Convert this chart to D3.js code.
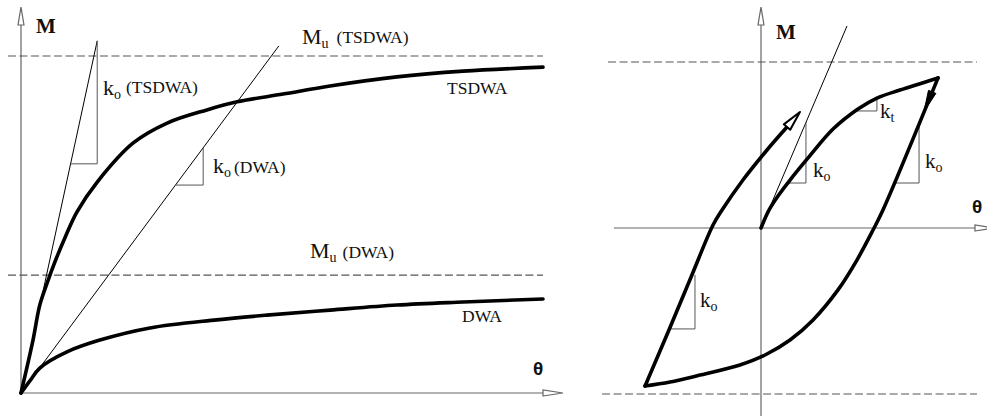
<!DOCTYPE html>
<html>
<head>
<meta charset="utf-8">
<script src="https://cdn.jsdelivr.net/npm/d3@7"></script>
<style>
  html, body { margin: 0; padding: 0; background: #fff; }
  svg { display: block; }
  text { font-family: "Liberation Serif", "Times New Roman", serif; fill: #111; }
  .greek { font-family: "Liberation Sans", Arial, sans-serif; font-weight: bold; }
</style>
</head>
<body>
<div id="chart"></div>
<script>
// ---- left panel: monotonic M-theta curves (M normalised so Mu(TSDWA) = 1) ----
const tsdwa = [[0,0],[0.023,0.157],[0.036,0.261],[0.050,0.326],[0.065,0.389],[0.084,0.460],[0.107,0.537],
  [0.146,0.626],[0.215,0.742],[0.280,0.801],[0.356,0.840],[0.414,0.864],[0.502,0.887],[0.592,0.911],
  [0.720,0.938],[0.847,0.955],[1.0,0.967]];
const dwa = [[0,0],[0.017,0.036],[0.036,0.074],[0.088,0.122],[0.151,0.157],[0.247,0.193],[0.375,0.217],
  [0.471,0.231],[0.592,0.246],[0.720,0.261],[0.847,0.270],[1.0,0.279]];
const muLevels = [1.0, 0.35];                 // Mu(TSDWA), Mu(DWA)
const muExtent = [-0.025, 1.0];
const koLines = [[[0,0],[0.146,1.045]], [[0,0],[0.494,1.030]]];
const leftTriangles = [
  [[0.095,0.680],[0.146,0.680],[0.146,1.045]],
  [[0.296,0.617],[0.349,0.617],[0.349,0.728]]
];
const leftAxisX = [0, 1.0, 1.038];            // start, arrow base, tip
const leftAxisY = [0, 1.092, 1.145];

// ---- right panel: cyclic response ----
const loading = [[0,0],[0.045,0.108],[0.096,0.193],[0.164,0.289],[0.266,0.422],[0.407,0.596],
  [0.548,0.717],[0.655,0.783],[0.785,0.831],[1.0,0.904]];
const unloading = [[1.0,0.904],[0.689,0.108],[0.633,-0.012],[0.542,-0.193],[0.435,-0.373],[0.294,-0.554],
  [0.164,-0.675],[0.023,-0.765],[-0.119,-0.825],[-0.345,-0.886],[-0.514,-0.928],[-0.655,-0.952]];
const reloading = [[-0.655,-0.952],[-0.520,-0.614],[-0.395,-0.295],[-0.271,0.018],[-0.220,0.108],
  [-0.102,0.289],[0.034,0.470],[0.147,0.608],[0.220,0.699]];
const koRight = [[0,0],[0.486,1.217]];
const rightTriangles = [
  [[0.147,0.271],[0.254,0.271],[0.254,0.639]],
  [[0.531,0.705],[0.655,0.705],[0.655,0.789]],
  [[0.757,0.271],[0.893,0.271],[0.893,0.620]],
  [[-0.514,-0.608],[-0.373,-0.608],[-0.373,-0.283]]
];
const capacity = [1, -1];
const capExtentTop = [-0.864, 1.22], capExtentBottom = [-0.898, 1.22];
const unloadArrow = [0.82, 0.70];             // M at arrow base, tip
const rightAxisX = [-0.831, 1.209, 1.322];
const rightAxisY = [-1.133, 1.223, 1.331];

const W = 987, H = 416;
const svg = d3.select("#chart").append("svg").attr("width", W).attr("height", H);

const xL = d3.scaleLinear().domain([0, 1]).range([21, 543]);
const yL = d3.scaleLinear().domain([0, 1]).range([393, 56]);
const xR = d3.scaleLinear().domain([0, 1]).range([761, 938]);
const yR = d3.scaleLinear().domain([0, 1]).range([228, 62]);

const AXIS = "#666", GUIDE = "#555";

function arrowHead(p0, p1, half) {
  const dx = p1[0] - p0[0], dy = p1[1] - p0[1], len = Math.hypot(dx, dy);
  const nx = -dy / len * half, ny = dx / len * half;
  return [[p0[0] + nx, p0[1] + ny], p1, [p0[0] - nx, p0[1] - ny]];
}

function drawPanel(x, y, axX, axY) {
  const g = svg.append("g");
  // horizontal axis
  g.append("line").attr("x1", x(axX[0])).attr("x2", x(axX[1])).attr("y1", y(0)).attr("y2", y(0))
    .attr("stroke", AXIS).attr("stroke-width", 1.2);
  g.append("path").attr("d", d3.line()(arrowHead([x(axX[1]), y(0)], [x(axX[2]), y(0)], 3)) + "Z")
    .attr("fill", "#fff").attr("stroke", AXIS).attr("stroke-width", 1.2);
  // vertical axis
  g.append("line").attr("x1", x(0)).attr("x2", x(0)).attr("y1", y(axY[0])).attr("y2", y(axY[1]))
    .attr("stroke", AXIS).attr("stroke-width", 1.2);
  g.append("path").attr("d", d3.line()(arrowHead([x(0), y(axY[1])], [x(0), y(axY[2])], 3)) + "Z")
    .attr("fill", "#fff").attr("stroke", AXIS).attr("stroke-width", 1.2);
  return g;
}

function dashed(g, x, y, level, ext) {
  g.append("line").attr("x1", x(ext[0])).attr("x2", x(ext[1])).attr("y1", y(level)).attr("y2", y(level))
    .attr("stroke", GUIDE).attr("stroke-width", 1.2).attr("stroke-dasharray", "8,3.5");
}

function thick(g, x, y, data) {
  g.append("path").datum(data)
    .attr("fill", "none").attr("stroke", "#000").attr("stroke-width", 3.6)
    .attr("stroke-linejoin", "round").attr("stroke-linecap", "round")
    .attr("d", d3.line().x(d => x(d[0])).y(d => y(d[1])).curve(d3.curveCatmullRom.alpha(0.5)));
}

function thin(g, x, y, data, color, w) {
  g.append("path").datum(data)
    .attr("fill", "none").attr("stroke", color).attr("stroke-width", w)
    .attr("d", d3.line().x(d => x(d[0])).y(d => y(d[1])));
}

function label(px, py, main, sub, rest, o) {
  const t = svg.append("text").attr("x", px).attr("y", py).attr("font-size", o.size || 22);
  t.append("tspan").text(main);
  if (sub) t.append("tspan").attr("font-size", o.subSize || 14).attr("dy", o.subDy || 4).text(sub);
  if (rest) t.append("tspan").attr("font-size", 17.5).attr("dy", -(o.subDy || 4) + (o.restDy || 0))
    .attr("dx", o.dx || 4).text(rest);
}

// ---------------- left panel ----------------
const gl = drawPanel(xL, yL, leftAxisX, leftAxisY);
muLevels.forEach(m => dashed(gl, xL, yL, m, muExtent));
koLines.forEach(l => thin(gl, xL, yL, l, "#000", 1));
leftTriangles.forEach(t => thin(gl, xL, yL, t, GUIDE, 1));
thick(gl, xL, yL, tsdwa);
thick(gl, xL, yL, dwa);

svg.append("text").attr("x", 36).attr("y", 33).attr("font-size", 21).attr("font-weight", "bold").text("M");
svg.append("text").attr("class", "greek").attr("x", 533).attr("y", 375).attr("font-size", 19).text("θ");
label(103, 95, "k", "o", "(TSDWA)", { dx: 5, restDy: -2 });
label(213, 173, "k", "o", "(DWA)", { dx: 3 });
label(302, 44, "M", "u", "(TSDWA)", { dx: 8, restDy: -1 });
label(310, 258, "M", "u", "(DWA)", { dx: 6 });
svg.append("text").attr("x", 447).attr("y", 94).attr("font-size", 17.5).text("TSDWA");
svg.append("text").attr("x", 462).attr("y", 322).attr("font-size", 17.5).text("DWA");

// ---------------- right panel ----------------
const gr = drawPanel(xR, yR, rightAxisX, rightAxisY);
dashed(gr, xR, yR, capacity[0], capExtentTop);
dashed(gr, xR, yR, capacity[1], capExtentBottom);
thin(gr, xR, yR, koRight, "#000", 1);
rightTriangles.forEach(t => thin(gr, xR, yR, t, GUIDE, 1));
thick(gr, xR, yR, loading);
thick(gr, xR, yR, unloading);
thick(gr, xR, yR, reloading.slice(0, -1));

// open arrow at the end of the reloading branch
const rb = reloading[reloading.length - 2], rt = reloading[reloading.length - 1];
gr.append("path")
  .attr("d", d3.line()(arrowHead([xR(rb[0]), yR(rb[1])], [xR(rt[0]), yR(rt[1])], 4.2)) + "Z")
  .attr("fill", "#fff").attr("stroke", "#000").attr("stroke-width", 2).attr("stroke-linejoin", "round");

// filled arrow on the unloading branch
const u0 = unloading[0], u1 = unloading[1];
const along = m => { const t = (u0[1] - m) / (u0[1] - u1[1]); return [xR(u0[0] + (u1[0] - u0[0]) * t), yR(m)]; };
gr.append("path")
  .attr("d", d3.line()(arrowHead(along(unloadArrow[0]), along(unloadArrow[1]), 4)) + "Z")
  .attr("fill", "#000").attr("stroke", "#000").attr("stroke-width", 1);

svg.append("text").attr("x", 776).attr("y", 39).attr("font-size", 21).attr("font-weight", "bold").text("M");
svg.append("text").attr("class", "greek").attr("x", 972).attr("y", 213).attr("font-size", 19).text("θ");
label(813, 177, "k", "o", null, { size: 21 });
label(880, 118, "k", "t", null, { size: 21 });
label(925, 168, "k", "o", null, { size: 21 });
label(700, 307, "k", "o", null, { size: 21 });
</script>
</body>
</html>
